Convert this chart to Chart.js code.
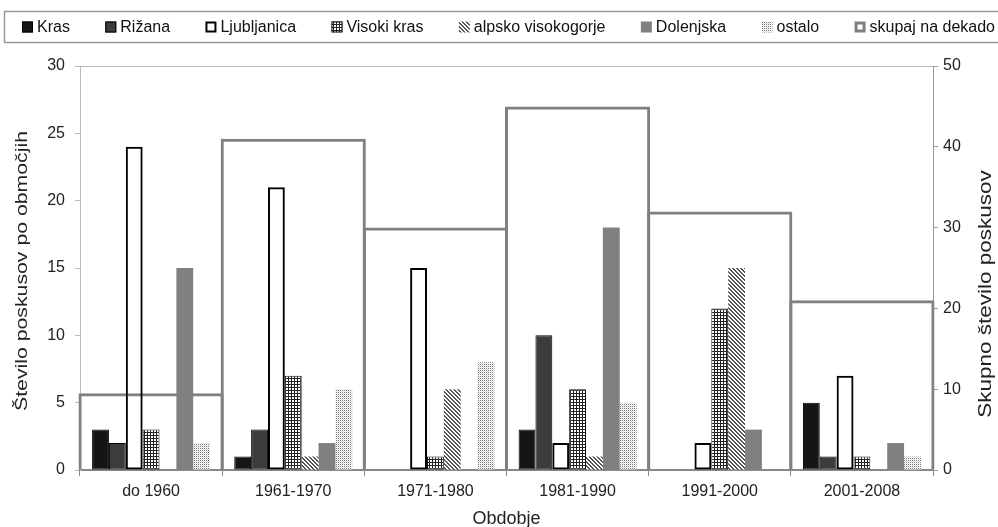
<!DOCTYPE html>
<html>
<head>
<meta charset="utf-8">
<script src="https://cdn.jsdelivr.net/npm/chart.js@4.4.1/dist/chart.umd.min.js"></script>
<style>
  html, body { margin: 0; padding: 0; background: #fff; }
  #wrap { width: 998px; height: 527px; }
</style>
</head>
<body>
<div id="wrap"><canvas id="c" width="998" height="527"></canvas></div>
<script>
// Poskusi sledenja po obdobjih in območjih
const periods = ['do 1960', '1961-1970', '1971-1980', '1981-1990', '1991-2000', '2001-2008'];
const kras        = [3, 1, 0, 3, 0, 5];
const rizana      = [2, 3, 0, 10, 0, 1];
const ljubljanica = [24, 21, 15, 2, 2, 7];
const visokiKras  = [3, 7, 1, 6, 12, 1];
const alpsko      = [0, 1, 6, 1, 15, 0];
const dolenjska   = [15, 2, 0, 18, 3, 2];
const ostalo      = [2, 6, 8, 5, 0, 1];
const skupaj      = [9.5, 41, 30, 45, 32, 21];

const leftAxis  = { min: 0, max: 30, step: 5 };
const rightAxis = { min: 0, max: 50, step: 10 };

const FONT = "'Liberation Sans', Arial, sans-serif";
const TEXT = '#222';

// Fill patterns for the hatched series
function makePattern(size, paint) {
  const cv = document.createElement('canvas');
  cv.width = size; cv.height = size;
  const g = cv.getContext('2d');
  g.fillStyle = '#fff';
  g.fillRect(0, 0, size, size);
  paint(g);
  return g.createPattern(cv, 'repeat');
}
const gridFill = makePattern(3, g => {
  g.fillStyle = '#222';
  g.fillRect(0, 0, 3, 1);
  g.fillRect(0, 0, 1, 3);
});
const hatchFill = makePattern(4, g => {
  g.fillStyle = '#555';
  for (let i = 0; i < 4; i++) { g.fillRect(i, i, 1, 1); g.fillRect((i + 1) % 4, i, 1, 1); }
});
const dotFill = makePattern(4, g => {
  g.fillStyle = '#777';
  g.fillRect(0, 0, 1, 1); g.fillRect(2, 2, 1, 1);
  g.fillRect(2, 0, 1, 1); g.fillRect(0, 2, 1, 1);
  g.fillStyle = '#ddd';
  g.fillRect(1, 1, 1, 1); g.fillRect(3, 3, 1, 1);
  g.fillRect(3, 1, 1, 1); g.fillRect(1, 3, 1, 1);
});

const CAT_PCT = 0.83;
function series(label, data, bg, border, bw) {
  return {
    label, data,
    backgroundColor: bg,
    borderColor: border,
    borderWidth: bw,
    borderSkipped: false,
    categoryPercentage: CAT_PCT,
    barPercentage: 1,
    yAxisID: 'y'
  };
}

const SK_BORDER = 3;

// Legend row inside a thin frame
const legendRow = {
  id: 'legendRow',
  afterDraw(chart) {
    const ctx = chart.ctx;
    const box = 11, gapText = 4, startX = 22, endX = 995, cy = 27;
    ctx.save();
    ctx.font = '16px ' + FONT;
    ctx.textBaseline = 'middle';
    const items = chart.data.datasets.map(ds => ({ ds, w: ctx.measureText(ds.label).width }));
    const used = items.reduce((s, it) => s + box + gapText + it.w, 0);
    const gap = (endX - startX - used) / (items.length - 1);
    let x = startX;
    items.forEach(({ ds, w }) => {
      const y = cy - box / 2;
      ctx.fillStyle = '#fff';
      ctx.fillRect(x, y, box, box);
      ctx.fillStyle = ds.backgroundColor;
      ctx.fillRect(x, y, box, box);
      const bw = Math.min(ds.borderWidth || 0, 3);
      if (bw > 0) {
        ctx.strokeStyle = ds.borderColor;
        ctx.lineWidth = bw;
        ctx.strokeRect(x + bw / 2, y + bw / 2, box - bw, box - bw);
      }
      ctx.fillStyle = '#111';
      ctx.fillText(ds.label, x + box + gapText, cy + 1);
      x += box + gapText + w + gap;
    });
    ctx.strokeStyle = '#999';
    ctx.lineWidth = 1.5;
    ctx.strokeRect(4.5, 11.5, chart.width + 10, 31);
    ctx.restore();
  }
};

// Vertical axis titles (reading upwards) and top edge of the plot
const axisTitles = {
  id: 'axisTitles',
  afterDraw(chart) {
    const ctx = chart.ctx;
    const a = chart.chartArea;
    ctx.save();
    ctx.strokeStyle = '#bbb';
    ctx.lineWidth = 1;
    ctx.beginPath();
    ctx.moveTo(a.left, a.top + 0.5);
    ctx.lineTo(a.right, a.top + 0.5);
    ctx.stroke();

    ctx.fillStyle = TEXT;
    ctx.textAlign = 'center';
    ctx.textBaseline = 'middle';
    const midY = (a.top + a.bottom) / 2;

    ctx.save();
    ctx.translate(chart.scales.y.left + 22, midY + 3);
    ctx.rotate(-Math.PI / 2);
    ctx.scale(1.25, 1);
    ctx.font = '17px ' + FONT;
    ctx.fillText('Število poskusov po območjih', 0, 0);
    ctx.restore();

    ctx.save();
    ctx.translate(chart.scales.y2.right - 12, midY + 26);
    ctx.rotate(-Math.PI / 2);
    ctx.scale(1.25, 1);
    ctx.font = '18px ' + FONT;
    ctx.fillText('Skupno število poskusov', 0, 0);
    ctx.restore();

    ctx.restore();
  }
};

new Chart(document.getElementById('c'), {
  type: 'bar',
  data: {
    labels: periods,
    datasets: [
      series('Kras', kras, '#151515', '#000', 1),
      series('Rižana', rizana, '#3c3c3c', '#000', 1),
      series('Ljubljanica', ljubljanica, 'rgba(255,255,255,0)', '#000', 2),
      series('Visoki kras', visokiKras, gridFill, '#111', 1),
      series('alpsko visokogorje', alpsko, hatchFill, '#bbb', 0),
      series('Dolenjska', dolenjska, '#808080', '#808080', 0),
      series('ostalo', ostalo, dotFill, '#ccc', 0),
      {
        label: 'skupaj na dekado',
        data: skupaj,
        grouped: false,
        backgroundColor: 'rgba(255,255,255,0)',
        borderColor: '#808080',
        borderWidth: SK_BORDER,
        borderSkipped: 'start',
        categoryPercentage: 1,
        barPercentage: 1 + SK_BORDER / 142.2,
        clip: false,
        yAxisID: 'y2'
      }
    ]
  },
  options: {
    responsive: false,
    animation: false,
    devicePixelRatio: 1,
    layout: { padding: { top: 66, left: 0, right: 0, bottom: 0 } },
    plugins: {
      tooltip: { enabled: false },
      legend: { display: false }
    },
    scales: {
      x: {
        type: 'category',
        offset: true,
        grid: { offset: true, drawOnChartArea: false, drawTicks: true, tickLength: 6, color: '#888' },
        border: { color: '#888', width: 2 },
        ticks: { color: TEXT, font: { family: FONT, size: 16 }, padding: 6, maxRotation: 0 },
        title: { display: true, text: 'Obdobje', color: TEXT, font: { family: FONT, size: 18 }, padding: { top: 0, bottom: -3 } },
        afterFit(s) { s.height = 57; }
      },
      y: {
        position: 'left',
        min: leftAxis.min, max: leftAxis.max,
        ticks: { stepSize: leftAxis.step, color: TEXT, font: { family: FONT, size: 16 }, padding: 10 },
        grid: { drawOnChartArea: false, tickLength: 5, color: '#bbb' },
        border: { color: '#bbb', width: 1 },
        afterFit(s) { s.width = 80; }
      },
      y2: {
        position: 'right',
        min: rightAxis.min, max: rightAxis.max,
        ticks: { stepSize: rightAxis.step, color: TEXT, font: { family: FONT, size: 16 }, padding: 5 },
        grid: { drawOnChartArea: false, tickLength: 5, color: '#999' },
        border: { color: '#999', width: 1 },
        afterFit(s) { s.width = 65; }
      }
    }
  },
  plugins: [legendRow, axisTitles]
});
</script>
</body>
</html>
